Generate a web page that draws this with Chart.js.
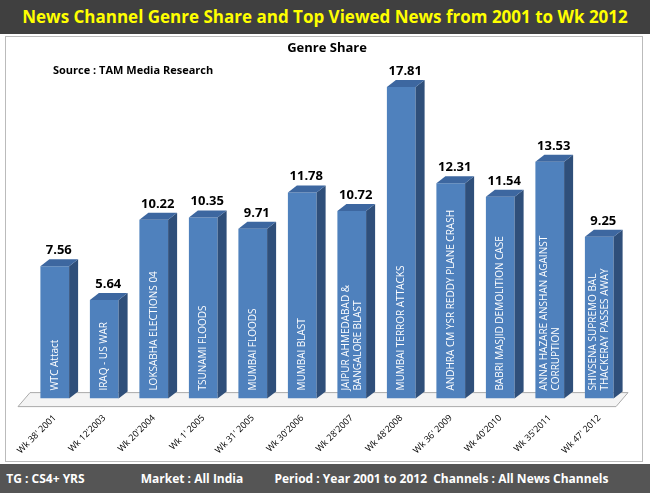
<!DOCTYPE html>
<html><head><meta charset="utf-8">
<script src="https://cdn.jsdelivr.net/npm/chart.js@4"></script>
<style>
body{margin:0;width:650px;height:493px;overflow:hidden;background:#fff;font-family:Calibri,'Open Sans',sans-serif;position:relative}
#hdr{position:absolute;left:0;top:0;width:650px;height:34px;background:#404040;color:#ffff00;font:bold 17px 'Open Sans',sans-serif;text-align:center;line-height:34px}
#panel{position:absolute;left:5px;top:36px;width:636px;height:424px;border:1px solid #bbb}
#ftr{position:absolute;left:0;top:464px;width:650px;height:29px;background:#555;color:#fff;font:bold 12px 'Open Sans',sans-serif;line-height:29px;white-space:pre}
canvas{position:absolute;left:0;top:0}
</style></head><body>
<div id="hdr">News Channel Genre Share and Top Viewed News from 2001 to Wk 2012</div>
<div id="panel"></div>
<div style="position:absolute;left:0;top:36px;width:650px;height:428px"><canvas id="c" width="650" height="428"></canvas></div>
<div id="ftr">  TG : CS4+ YRS                  Market : All India          Period : Year 2001 to 2012  Channels : All News Channels</div>
<script>
const weeks = ["Wk 38' 2001","Wk 12'2003","Wk 20'2004","Wk 1' 2005","Wk 31' 2005","Wk 30'2006","Wk 28'2007","Wk 48'2008","Wk 36' 2009","Wk 40'2010","Wk 35'2011","Wk 47' 2012"];
const events = [["WTC Attact"],["IRAQ - US WAR"],["LOKSABHA ELECTIONS 04"],["TSUNAMI FLOODS"],["MUMBAI FLOODS"],["MUMBAI BLAST"],["JAIPUR AHMEDABAD &","BANGALORE BLAST"],["MUMBAI TERROR ATTACKS"],["ANDHRA CM YSR REDDY PLANE CRASH"],["BABRI MASJID DEMOLITION CASE"],["ANNA HAZARE ANSHAN AGAINST","CORRUPTION"],["SHIVSENA SUPREMO BAL","THACKERAY PASSES AWAY"]];
const share = [7.56,5.64,10.22,10.35,9.71,11.78,10.72,17.81,12.31,11.54,13.53,9.25];

const dx = 9, dy = 7;
const bars3d = {
  id: 'bars3d',
  beforeDatasetsDraw(chart) {
    const c = chart.ctx, a = chart.chartArea, y0 = chart.scales.y.getPixelForValue(0);
    c.save();
    c.strokeStyle = '#aaa'; c.fillStyle = '#f4f4f4';
    c.beginPath(); c.moveTo(a.left - 12, y0 + 8); c.lineTo(a.right - 8, y0 + 8); c.lineTo(a.right + 4, y0 - 6); c.lineTo(a.left, y0 - 6); c.closePath(); c.fill(); c.stroke();
    c.restore();
  },
  afterDatasetsDraw(chart) {
    const c = chart.ctx;
    const meta = chart.getDatasetMeta(0);
    c.save();
    meta.data.forEach((b, i) => {
      const l = b.x - b.width / 2, r = b.x + b.width / 2, t = b.y, bot = b.base;
      c.fillStyle = '#2f4f7a';
      c.beginPath(); c.moveTo(r, t); c.lineTo(r + dx, t - dy); c.lineTo(r + dx, bot - dy); c.lineTo(r, bot); c.fill();
      c.fillStyle = '#3d67a0';
      c.beginPath(); c.moveTo(l, t); c.lineTo(l + dx, t - dy); c.lineTo(r + dx, t - dy); c.lineTo(r, t); c.fill();
      c.fillStyle = '#000'; c.font = 'bold 13px "Open Sans", sans-serif'; c.textAlign = 'center';
      c.fillText(share[i].toFixed(2), b.x + 4, t - dy - 5);
      c.save();
      c.translate(b.x, bot - 8); c.rotate(-Math.PI / 2);
      c.fillStyle = '#fff'; c.font = '10px "Open Sans", sans-serif'; c.textAlign = 'left'; c.textBaseline = 'middle';
      const lines = events[i];
      lines.forEach((s, k) => c.fillText(s, 0, (k - (lines.length - 1) / 2) * 12));
      c.restore();
    });
    c.fillStyle = '#000'; c.font = 'bold 11px "Open Sans", sans-serif'; c.textAlign = 'left';
    c.fillText('Source : TAM Media Research', 53, 38);
    c.restore();
  }
};

new Chart(document.getElementById('c'), {
  type: 'bar',
  data: { labels: weeks, datasets: [{ data: share, backgroundColor: '#4f81bd', categoryPercentage: 1, barPercentage: 0.58 }] },
  options: {
    responsive: false, animation: false,
    layout: { padding: { left: 30, right: 26, top: 0, bottom: 2 } },
    plugins: { legend: { display: false }, tooltip: { enabled: false },
      title: { display: true, text: 'Genre Share', color: '#000', font: { size: 13, weight: 'bold', family: 'Open Sans' }, padding: { top: 4, bottom: 0 } } },
    scales: {
      y: { display: false, min: 0, max: 19.6 },
      x: { grid: { display: false }, border: { display: false },
        ticks: { minRotation: 45, maxRotation: 45, padding: 6, color: '#000', font: { size: 9, family: 'Open Sans' } } }
    }
  },
  plugins: [bars3d]
});
</script></body></html>
